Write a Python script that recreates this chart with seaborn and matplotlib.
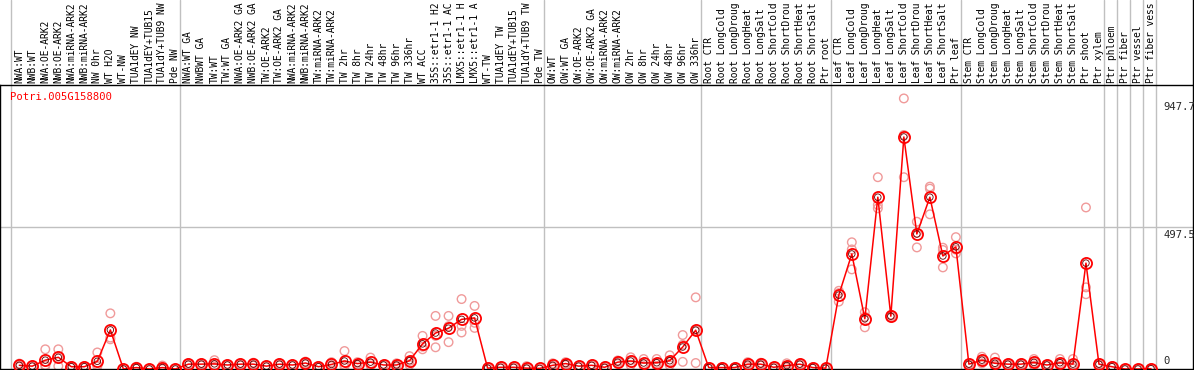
import matplotlib
matplotlib.use("Agg")
import matplotlib.pyplot as plt
import seaborn as sns
import numpy as np
import pandas as pd

# ── data ──────────────────────────────────────────────────────────────────────
GENE = "Potri.005G158800"

# sample names as printed in the header strip (cut to 14 characters there)
samples = [
    "NWA:WT", "NWB:WT", "NWA:OE-ARK2", "NWB:OE-ARK2", "NWA:miRNA-ARK2", "NWB:miRNA-ARK2",
    "NW 0hr", "WT H2O", "WT-NW", "TUA1dEY NW", "TUA1dEY+TUB15", "TUA1dY+TUB9 NW", "Pde NW",
    "NWA:WT GA", "NWBWT GA", "TW:WT", "TW:WT GA", "NWA:OE-ARK2 GA", "NWB:OE-ARK2 GA",
    "TW:OE-ARK2", "TW:OE-ARK2 GA", "NWA:miRNA-ARK2", "NWB:miRNA-ARK2", "TW:miRNA-ARK2",
    "TW:miRNA-ARK2", "TW 2hr", "TW 8hr", "TW 24hr", "TW 48hr", "TW 96hr", "TW 336hr",
    "WT ACC", "35S::etr1-1 H2", "35S::etr1-1 AC", "LMX5::etr1-1 H", "LMX5::etr1-1 A",
    "WT-TW", "TUA1dEY TW", "TUA1dEY+TUB15", "TUA1dY+TUB9 TW", "Pde TW",
    "OW:WT", "OW:WT GA", "OW:OE-ARK2", "OW:OE-ARK2 GA", "OW:miRNA-ARK2", "OW:miRNA-ARK2",
    "OW 2hr", "OW 8hr", "OW 24hr", "OW 48hr", "OW 96hr", "OW 336hr",
    "Root CTR", "Root LongCold", "Root LongDroug", "Root LongHeat", "Root LongSalt",
    "Root ShortCold", "Root ShortDrou", "Root ShortHeat", "Root ShortSalt", "Ptr root",
    "Leaf CTR", "Leaf LongCold", "Leaf LongDroug", "Leaf LongHeat", "Leaf LongSalt",
    "Leaf ShortCold", "Leaf ShortDrou", "Leaf ShortHeat", "Leaf ShortSalt", "Ptr leaf",
    "Stem CTR", "Stem LongCold", "Stem LongDroug", "Stem LongHeat", "Stem LongSalt",
    "Stem ShortCold", "Stem ShortDrou", "Stem ShortHeat", "Stem ShortSalt", "Ptr shoot",
    "Ptr xylem", "Ptr phloem", "Ptr fiber", "Ptr vessel", "Ptr fiber vess",
]

# index of the last sample in each block (a grey separator follows it)
block_ends = [-1, 12, 40, 52, 62, 72, 83, 84, 85, 86, 87]

means = [
    13, 10, 31, 41, 8, 8, 27, 137, 0, 5, 0, 5, 0,
    17, 17, 18, 14, 17, 17, 10, 17, 14, 21, 8, 16, 28, 19, 24, 14, 14, 29,
    88, 126, 143, 174, 179, 3, 6, 6, 3, 2,
    13, 19, 10, 13, 6, 24, 28, 21, 22, 29, 77, 136,
    5, 5, 5, 17, 17, 6, 12, 17, 5, 3,
    259, 403, 176, 602, 185, 813, 473, 602, 396, 428,
    17, 31, 20, 17, 17, 23, 14, 22, 17, 371, 17,
    8, 0, 0, 1,
]

rep1 = [
    19, 12, 69, 69, 10, 10, 58, 195, 0, 8, 0, 12, 0,
    20, 20, 31, 16, 20, 22, 12, 20, 16, 26, 10, 24, 63, 24, 40, 16, 20, 45,
    116, 186, 186, 245, 221, 5, 8, 8, 10, 3,
    20, 24, 12, 16, 10, 30, 41, 35, 35, 48, 119, 251,
    6, 6, 6, 24, 22, 8, 20, 20, 6, 5,
    274, 444, 199, 672, 190, 948, 516, 639, 425, 462,
    20, 43, 40, 20, 20, 35, 16, 35, 35, 566, 20,
    10, 0, 0, 2,
]
rep2 = [
    12, 10, 14, 44, 8, 8, 14, 110, 0, 5, 0, 3, 0,
    17, 17, 14, 14, 17, 17, 10, 17, 14, 20, 8, 14, 14, 18, 20, 14, 14, 28,
    78, 116, 150, 151, 162, 3, 6, 6, 2, 2,
    12, 19, 10, 13, 6, 24, 30, 18, 20, 26, 85, 135,
    5, 5, 5, 17, 17, 6, 10, 17, 5, 3,
    266, 419, 183, 575, 185, 820, 477, 632, 417, 418,
    17, 30, 20, 17, 17, 22, 14, 20, 15, 286, 17,
    8, 0, 0, 1,
]
rep3 = [
    8, 8, 10, 10, 6, 6, 9, 104, 0, 2, 0, 0, 0,
    14, 14, 8, 12, 14, 12, 8, 14, 12, 17, 6, 10, 7, 14, 12, 12, 8, 14,
    69, 76, 94, 128, 144, 1, 4, 4, 0, 1,
    7, 14, 8, 10, 2, 18, 13, 10, 11, 13, 25, 21,
    3, 3, 3, 10, 12, 4, 5, 14, 3, 1,
    236, 349, 146, 563, 180, 672, 426, 542, 356, 405,
    14, 20, 10, 14, 14, 12, 12, 11, 1, 262, 14,
    6, 0, 0, 0,
]

y_ticks = [947.7, 497.5, 0]

# ── frames ────────────────────────────────────────────────────────────────────
n = len(samples)
df_mean = pd.DataFrame({"pos": np.arange(n), "value": means})
df_rep = pd.DataFrame({
    "pos": np.tile(np.arange(n), 3),
    "value": rep1 + rep2 + rep3,
})

sns.set_style("white")
plt.rcParams["font.family"] = ["DejaVu Sans Mono", "DejaVu Sans"]

W, H = 1194, 370
fig = plt.figure(figsize=(W / 100, H / 100), dpi=100)
ax_lab = fig.add_axes([0, (H - 85) / H, 1193 / W, 85 / H])
ax = fig.add_axes([0, 1 / H, 1193 / W, 284 / H])

XMIN, XMAX = -19.3 / 13.008, (1193 - 19.3) / 13.008
YMAX = 947.7 * 1.05
GREY = "#c0c0c0"

# ── label strip ───────────────────────────────────────────────────────────────
ax_lab.set_xlim(XMIN, XMAX)
ax_lab.set_ylim(0, 1)
for i, s in enumerate(samples):
    ax_lab.text(i, 0.025, s, rotation=90, ha="center", va="bottom",
                fontsize=6.9, color="black")
for b in block_ends:
    ax_lab.axvline(b + 0.37, color=GREY, linewidth=1, zorder=0)
ax_lab.set_xticks([])
ax_lab.set_yticks([])
for side in ["left", "top", "bottom"]:
    ax_lab.spines[side].set_visible(False)
ax_lab.spines["right"].set_color("black")
ax_lab.spines["right"].set_linewidth(1)

# ── main plot ─────────────────────────────────────────────────────────────────
for b in block_ends:
    ax.axvline(b + 0.37, color=GREY, linewidth=1, zorder=0)
ax.axhline(y_ticks[1], color=GREY, linewidth=1, zorder=0)

sns.scatterplot(data=df_rep, x="pos", y="value", ax=ax, s=38,
                facecolors="none", edgecolor="#f09a9a", linewidth=1.0,
                zorder=2, legend=False)
sns.lineplot(data=df_mean, x="pos", y="value", ax=ax, color="red",
             linewidth=1.1, marker="o", markersize=8,
             markerfacecolor="none", markeredgecolor="red",
             markeredgewidth=1.3, zorder=3)
# thin dark inner ring of the mean markers
sns.scatterplot(data=df_mean, x="pos", y="value", ax=ax, s=22,
                facecolors="none", edgecolor="#600000", linewidth=0.6,
                zorder=4, legend=False)

ax.set_xlim(XMIN, XMAX)
ax.set_ylim(0, YMAX)
ax.set_xticks([])
ax.set_yticks([])
ax.set_xlabel("")
ax.set_ylabel("")
for side in ax.spines.values():
    side.set_visible(True)
    side.set_color("black")
    side.set_linewidth(1)

xlab = 1163 / 1193
for v in y_ticks:
    if v == 0:
        ax.annotate("0", xy=(xlab, v), xycoords=("axes fraction", "data"),
                    xytext=(0, 3), textcoords="offset pixels",
                    ha="left", va="bottom", fontsize=7.6)
    else:
        ax.annotate(f"{v:.1f}", xy=(xlab, v), xycoords=("axes fraction", "data"),
                    xytext=(0, -3), textcoords="offset pixels",
                    ha="left", va="top", fontsize=7.6)

ax.text(10 / 1193, 1 - 12 / 284, GENE, transform=ax.transAxes,
        ha="left", va="center", color="red", fontsize=7.6)

fig.savefig("out.png", dpi=100)
